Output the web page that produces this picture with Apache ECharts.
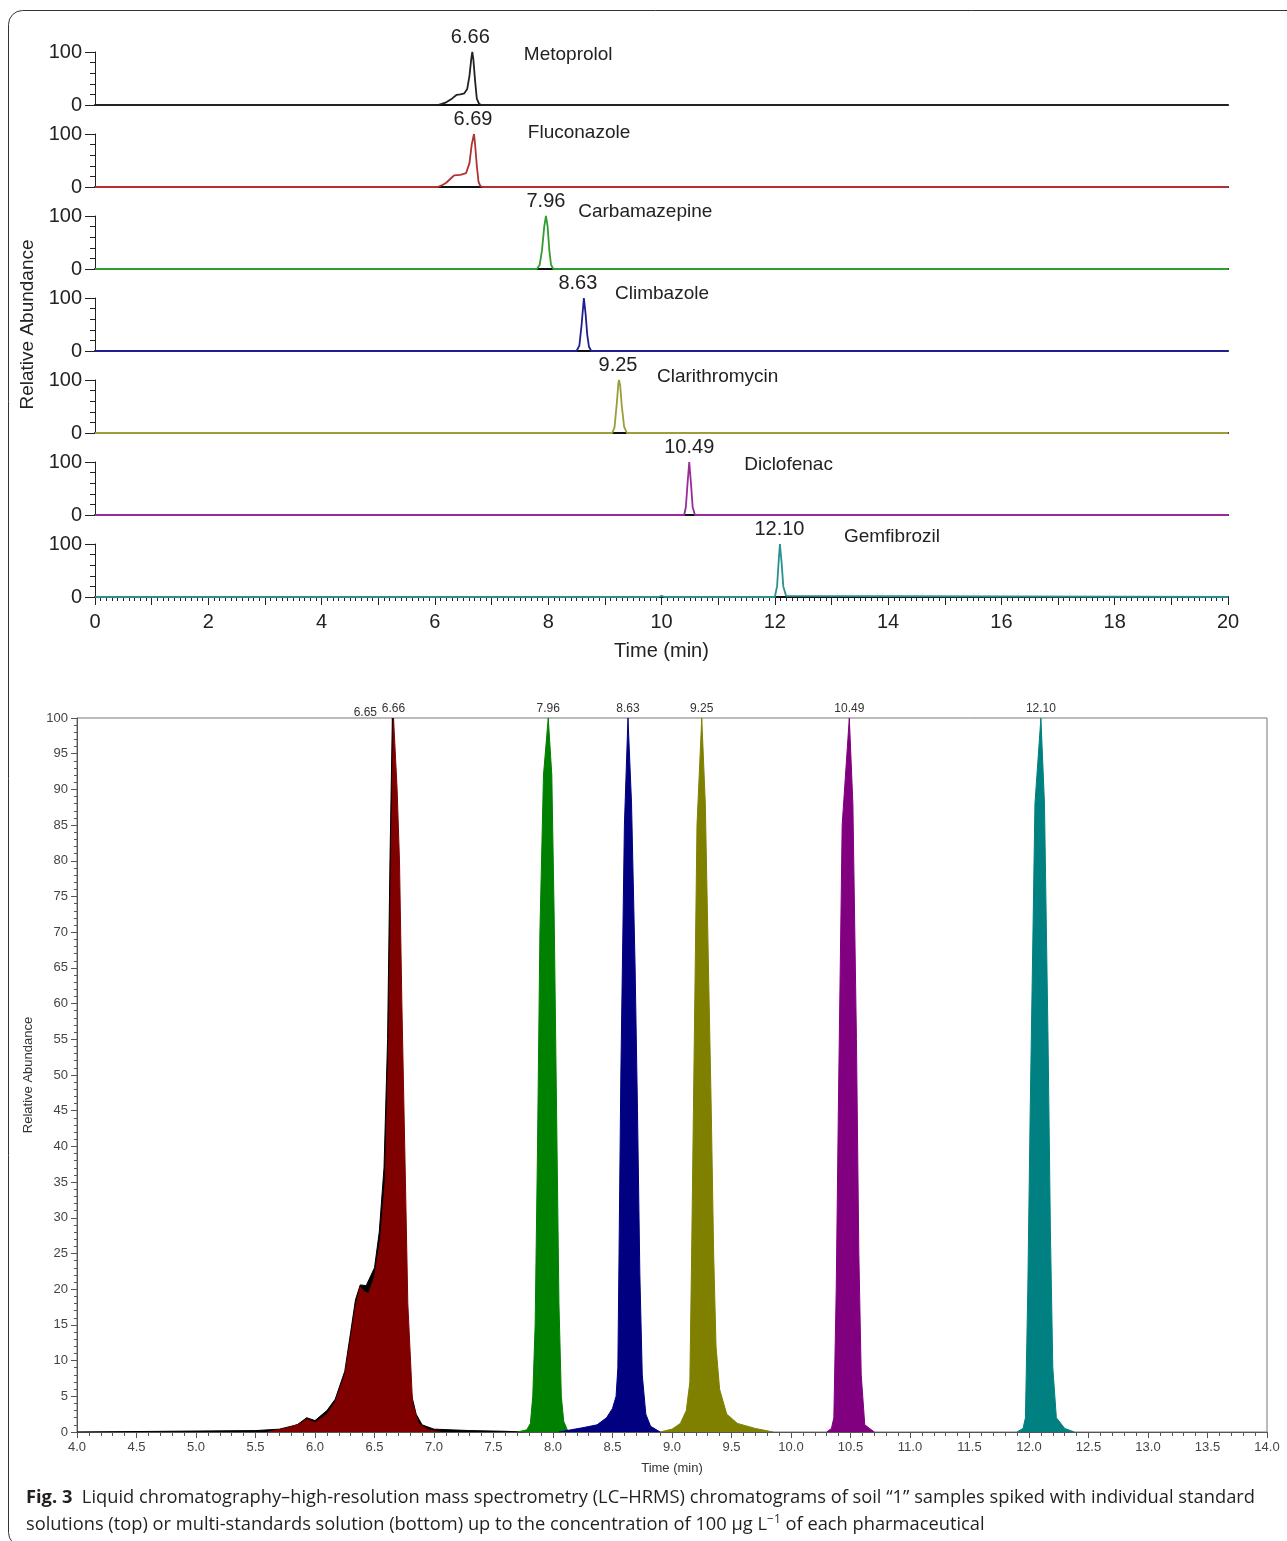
<!DOCTYPE html>
<html>
<head>
<meta charset="utf-8">
<title>Fig. 3 LC-HRMS chromatograms</title>
<script src="https://cdn.jsdelivr.net/npm/echarts@6/dist/echarts.min.js"></script>
<style>
html, body { margin: 0; padding: 0; background: #fff; }
#main { position: absolute; left: 0; top: 0; width: 1287px; height: 1541px; }
#caption {
	position: absolute; left: 26px; top: 1482px; white-space: nowrap;
	font-family: 'Open Sans', sans-serif; font-size: 18.3px; line-height: 27px; color: #231f20;
}
#caption b { font-weight: 700; }
#caption sup { font-size: 12px; vertical-align: 7px; line-height: 0; }
</style>
</head>
<body>
<div id="main"></div>
<div id="caption"><b>Fig. 3</b>&nbsp; Liquid chromatography–high-resolution mass spectrometry (LC–HRMS) chromatograms of soil “1” samples spiked with individual standard<br>solutions (top) or multi-standards solution (bottom) up to the concentration of 100 µg L<sup>−1</sup> of each pharmaceutical</div>
<script>
// compounds, same order as the stacked traces
var compounds = ['Metoprolol', 'Fluconazole', 'Carbamazepine', 'Climbazole', 'Clarithromycin', 'Diclofenac', 'Gemfibrozil'];
var peakLabels = ['6.66', '6.69', '7.96', '8.63', '9.25', '10.49', '12.10'];
var mixPeakLabels = ['6.65', '6.66', '7.96', '8.63', '9.25', '10.49', '12.10'];

// top: individual standards, [time (min), relative abundance %]
var metoprolol = [[0, 0], [6.05, 0], [6.12, 2], [6.2, 5], [6.3, 12], [6.38, 19], [6.45, 20], [6.52, 22], [6.57, 30], [6.61, 55], [6.64, 85], [6.66, 100], [6.68, 85], [6.71, 45], [6.74, 12], [6.78, 2], [6.82, 0], [20, 0]];
var fluconazole = [[0, 0], [6.05, 0], [6.12, 3], [6.2, 8], [6.28, 16], [6.34, 22], [6.45, 23], [6.55, 26], [6.61, 45], [6.65, 80], [6.69, 100], [6.71, 80], [6.74, 40], [6.77, 10], [6.8, 2], [6.84, 0], [20, 0]];
var carbamazepine = [[0, 0], [7.8, 0], [7.85, 8], [7.89, 35], [7.93, 80], [7.96, 100], [7.99, 80], [8.02, 35], [8.05, 8], [8.09, 0], [20, 0]];
var climbazole = [[0, 0], [8.5, 0], [8.55, 10], [8.59, 50], [8.63, 100], [8.66, 70], [8.69, 30], [8.72, 8], [8.76, 0], [20, 0]];
var clarithromycin = [[0, 0], [9.13, 0], [9.17, 10], [9.21, 55], [9.24, 95], [9.25, 100], [9.27, 90], [9.3, 50], [9.34, 12], [9.39, 0], [20, 0]];
var diclofenac = [[0, 0], [10.4, 0], [10.43, 15], [10.46, 60], [10.49, 100], [10.52, 60], [10.55, 15], [10.59, 0], [20, 0]];
var gemfibrozil = [[0, 0], [9.95, 0], [10.0, 2], [10.05, 0], [12.0, 0], [12.04, 20], [12.07, 70], [12.09, 100], [12.12, 65], [12.15, 20], [12.2, 2], [12.23, 0], [20, 0]];

// bottom: multi-standards solution
var metoprololMix = [[4, 0], [5.5, 0.2], [5.7, 0.4], [5.85, 1.0], [5.93, 2.0], [6.0, 1.6], [6.1, 3.0], [6.17, 4.6], [6.25, 8.5], [6.3, 14], [6.34, 18.5], [6.38, 20.6], [6.43, 20.5], [6.5, 23], [6.54, 28], [6.58, 37], [6.61, 55], [6.63, 80], [6.65, 100], [6.67, 92], [6.69, 65], [6.72, 40], [6.76, 18], [6.8, 6], [6.85, 2.5], [6.9, 1], [7.0, 0.4], [7.3, 0.2], [7.6, 0.1], [7.75, 0]];
var fluconazoleMix = [[5.6, 0], [5.75, 0.5], [5.88, 1.2], [5.93, 1.8], [6.0, 1.3], [6.1, 2.5], [6.17, 4.2], [6.25, 8], [6.3, 13], [6.34, 17.5], [6.38, 20.3], [6.42, 19.6], [6.45, 19.4], [6.5, 21.7], [6.55, 27], [6.59, 35], [6.62, 55], [6.64, 80], [6.66, 100], [6.69, 90], [6.71, 80], [6.73, 60], [6.76, 35], [6.78, 18], [6.82, 4], [6.87, 1.2], [6.95, 0.3], [7.05, 0]];
var carbamazepineMix = [[7.7, 0], [7.78, 0.3], [7.81, 1.2], [7.83, 5], [7.85, 15], [7.87, 40], [7.89, 70], [7.92, 92], [7.96, 100], [7.99, 92], [8.01, 72], [8.03, 45], [8.05, 18], [8.07, 5], [8.09, 1.5], [8.12, 0.3], [8.15, 0]];
var climbazoleMix = [[8.05, 0], [8.15, 0.3], [8.25, 0.6], [8.37, 1], [8.45, 2], [8.5, 3.3], [8.53, 5], [8.545, 9], [8.555, 25], [8.57, 50], [8.6, 85], [8.63, 100], [8.66, 88], [8.69, 65], [8.71, 45], [8.73, 22], [8.75, 8], [8.78, 2.5], [8.82, 0.8], [8.9, 0]];
var clarithromycinMix = [[8.9, 0], [9.0, 0.4], [9.07, 1.2], [9.12, 3], [9.15, 7], [9.165, 25], [9.18, 45], [9.21, 85], [9.25, 100], [9.28, 88], [9.31, 62], [9.33, 45], [9.35, 25], [9.37, 12], [9.4, 6], [9.46, 2.5], [9.55, 1.2], [9.7, 0.5], [9.85, 0]];
var diclofenacMix = [[10.3, 0], [10.34, 0.5], [10.36, 2], [10.38, 20], [10.4, 48], [10.43, 85], [10.49, 100], [10.52, 88], [10.55, 55], [10.57, 25], [10.59, 8], [10.62, 1], [10.7, 0]];
var gemfibrozilMix = [[11.9, 0], [11.95, 0.5], [11.97, 2], [11.99, 20], [12.01, 45], [12.05, 88], [12.1, 100], [12.13, 88], [12.16, 55], [12.18, 28], [12.2, 9], [12.23, 2], [12.3, 0.5], [12.38, 0]];

var topData = [metoprolol, fluconazole, carbamazepine, climbazole, clarithromycin, diclofenac, gemfibrozil];
var mixData = [metoprololMix, fluconazoleMix, carbamazepineMix, climbazoleMix, clarithromycinMix, diclofenacMix, gemfibrozilMix];

// layout / style
var topColors = ['#222222', '#b03232', '#2f9e2f', '#1f1f8f', '#9c9c3a', '#9a2a9a', '#2a9090'];
var mixColors = ['#000000', '#800000', '#008000', '#000080', '#808000', '#800080', '#008080'];
var nameAt = [7.57, 7.64, 8.53, 9.18, 9.92, 11.46, 13.22];   // left edge of compound names (min)
var nameDy = [3, -1, -4, -4, -3, 3, -7];
var peakDx = [-2, -1, 0, -6, -1, 0, -1];
var mixPeakDx = [-27, 0, 0, 0, 0, 0, 0];
var mixPeakDy = [-5, -9, -9, -9, -9, -9, -9];
var FONT = 'Liberation Sans';

var chart = echarts.init(document.getElementById('main'), null, { renderer: 'canvas' });

var grids = [], xAxes = [], yAxes = [], series = [];

for (var i = 0; i < 7; i++) {
	var last = i === 6;
	grids.push({ left: 95, right: 59, top: 52 + 82 * i, height: 53 });
	xAxes.push({
		type: 'value', gridIndex: i, min: 0, max: 20, interval: 1,
		name: last ? 'Time (min)' : '', nameLocation: 'middle', nameGap: 44,
		nameTextStyle: { fontFamily: FONT, fontSize: 20, color: '#222' },
		axisLine: { show: true, onZero: false, lineStyle: { color: '#111', width: 2 } },
		axisTick: { show: last, length: 8, lineStyle: { color: '#222' } },
		minorTick: { show: last, splitNumber: 10, length: 4, lineStyle: { color: '#222' } },
		axisLabel: {
			show: last, margin: 15, fontFamily: FONT, fontSize: 20, color: '#222',
			formatter: function(v) { return v % 2 === 0 ? String(v) : ''; }
		},
		splitLine: { show: false }
	});
	yAxes.push({
		type: 'value', gridIndex: i, min: 0, max: 100, interval: 100,
		name: i === 3 ? 'Relative Abundance' : '', nameLocation: 'middle', nameGap: 50,
		nameTextStyle: { fontFamily: FONT, fontSize: 19, color: '#222' },
		axisLine: { show: true, lineStyle: { color: '#222' } },
		axisTick: { show: true, length: 10, lineStyle: { color: '#222' } },
		minorTick: { show: true, splitNumber: 5, length: 5, lineStyle: { color: '#222' } },
		axisLabel: { margin: 13, fontFamily: FONT, fontSize: 20, color: '#222' },
		splitLine: { show: false }
	});
	series.push({
		type: 'line', name: compounds[i], xAxisIndex: i, yAxisIndex: i,
		data: topData[i], symbol: 'none', animation: false, z: 3,
		lineStyle: { color: topColors[i], width: 1.8 },
		itemStyle: { color: topColors[i] },
		markPoint: {
			symbol: 'rect', symbolSize: 1, animation: false,
			itemStyle: { color: 'rgba(0,0,0,0)' },
			label: { position: 'inside', fontFamily: FONT, fontSize: 20, color: '#222' },
			data: [
				{ coord: [parseFloat(peakLabels[i]), 100], label: { formatter: peakLabels[i], offset: [peakDx[i], -15] } },
				{ coord: [nameAt[i], 100], label: { formatter: compounds[i], align: 'left', fontSize: 19, offset: [0, nameDy[i]] } }
			]
		}
	});
}

// bottom panel: all standards in one run
grids.push({ left: 77, top: 718, width: 1190, height: 714, show: true, borderColor: '#777', borderWidth: 1 });
xAxes.push({
	type: 'value', gridIndex: 7, min: 4, max: 14, interval: 0.5,
	name: 'Time (min)', nameLocation: 'middle', nameGap: 30,
	nameTextStyle: { fontFamily: FONT, fontSize: 13, color: '#333' },
	axisLine: { onZero: false, lineStyle: { color: '#555' } },
	axisTick: { length: 6, lineStyle: { color: '#555' } },
	minorTick: { show: true, splitNumber: 5, length: 4, lineStyle: { color: '#555' } },
	axisLabel: { margin: 9, fontFamily: FONT, fontSize: 13, color: '#444', formatter: function(v) { return v.toFixed(1); } },
	splitLine: { show: false }
});
yAxes.push({
	type: 'value', gridIndex: 7, min: 0, max: 100, interval: 5,
	name: 'Relative Abundance', nameLocation: 'middle', nameGap: 34,
	nameTextStyle: { fontFamily: FONT, fontSize: 13, color: '#333' },
	axisLine: { lineStyle: { color: '#555' } },
	axisTick: { length: 6, lineStyle: { color: '#555' } },
	minorTick: { show: true, splitNumber: 5, length: 3, lineStyle: { color: '#555' } },
	axisLabel: { margin: 9, fontFamily: FONT, fontSize: 13, color: '#444' },
	splitLine: { show: false }
});
for (var j = 0; j < 7; j++) {
	series.push({
		type: 'line', name: compounds[j] + ' (mix)', xAxisIndex: 7, yAxisIndex: 7,
		data: mixData[j], symbol: 'none', animation: false, z: 2 + j,
		lineStyle: { color: mixColors[j], width: 1 },
		areaStyle: { color: mixColors[j], opacity: 1 },
		markPoint: {
			symbol: 'rect', symbolSize: 1, animation: false,
			itemStyle: { color: 'rgba(0,0,0,0)' },
			label: { position: 'inside', fontFamily: FONT, fontSize: 12, color: '#333' },
			data: [{ coord: [parseFloat(mixPeakLabels[j]), 100], label: { formatter: mixPeakLabels[j], offset: [mixPeakDx[j], mixPeakDy[j]] } }]
		}
	});
}

var option = {
	backgroundColor: '#fff',
	animation: false,
	grid: grids,
	xAxis: xAxes,
	yAxis: yAxes,
	series: series,
	graphic: [{
		type: 'rect', silent: true, z: -1,
		shape: { x: 8.5, y: 10.5, width: 1400, height: 1536, r: 14 },
		style: { fill: 'none', stroke: '#333', lineWidth: 1 }
	}]
};
chart.setOption(option);
</script>
</body>
</html>
